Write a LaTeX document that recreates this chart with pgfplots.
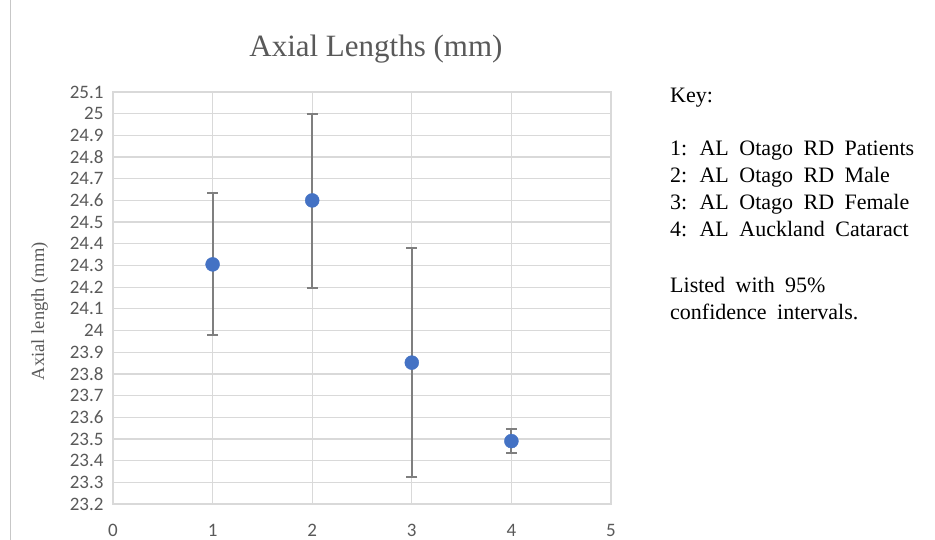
\documentclass[border=0pt]{standalone}
\usepackage{fontspec}
\setmainfont{Liberation Serif}
\newfontfamily\tickfont{Carlito}
\newfontfamily\keyfont[WordSpace=1.9]{Liberation Serif}
\usepackage{pgfplots}
\pgfplotsset{compat=1.18}
\definecolor{txtgray}{HTML}{595959}
\definecolor{gridgray}{HTML}{D9D9D9}
\definecolor{ptblue}{HTML}{4472C4}
\definecolor{errgray}{HTML}{7F7F7F}
\newcommand{\tfont}{\tickfont\fontsize{19}{21}\selectfont}
\begin{document}
\begin{tikzpicture}
\path[use as bounding box] (0,0) rectangle (935pt,540pt);
\draw[black!22, line width=1pt] (10pt,0) -- (10pt,540pt);
\begin{axis}[
  at={(113pt,36pt)}, anchor=south west,
  width=498pt, height=412pt, scale only axis,
  xmin=0, xmax=5, ymin=23.2, ymax=25.1,
  xtick={0,1,2,3,4,5},
  ytick={23.2,23.3,23.4,23.5,23.6,23.7,23.8,23.9,24,24.1,24.2,24.3,24.4,24.5,24.6,24.7,24.8,24.9,25,25.1},
  /pgf/number format/assume math mode=true,
  xticklabel={\tfont\pgfmathprintnumber[assume math mode=true]{\tick}},
  yticklabel={\tfont\pgfmathprintnumber[assume math mode=true,fixed,precision=1]{\tick}},
  tick label style={text=txtgray},
  yticklabel style={xshift=-6pt},
  xticklabel style={yshift=-17pt},
  major tick length=0pt,
  grid=major,
  major grid style={gridgray, line width=1.3pt},
  axis line style={gridgray, line width=1.3pt},
  title={Axial Lengths (mm)},
  title style={at={(axis description cs:0.528,1.09)}, anchor=center, font=\fontsize{31}{34}\selectfont, text=txtgray},
  ylabel={Axial length (mm)},
  ylabel style={at={(axis description cs:-0.147,0.468)}, anchor=center, font=\fontsize{18.5}{20}\selectfont, text=txtgray},
]
\addplot[draw=none, mark=none,
  error bars/.cd, y dir=both, y explicit,
  error bar style={errgray, line width=2pt},
  error mark options={rotate=90, mark size=5.5pt, errgray, line width=2pt}]
  coordinates {
  (1,24.305) += (0,0.327) -= (0,0.327)
  (2,24.600) += (0,0.400) -= (0,0.405)
  (3,23.852) += (0,0.529) -= (0,0.529)
  (4,23.490) += (0,0.055) -= (0,0.055)
  };
\addplot[only marks, mark=*, mark size=7pt, mark options={fill=ptblue, draw=ptblue}]
  coordinates {(1,24.305) (2,24.600) (3,23.852) (4,23.490)};
\end{axis}
\begin{scope}[every node/.style={anchor=base west, inner sep=0pt, font=\keyfont\fontsize{22}{26}\selectfont}]
\node at (670pt,437pt) {Key:};
\node at (670pt,384pt) {1: AL Otago RD Patients};
\node at (670pt,357pt) {2: AL Otago RD Male};
\node at (670pt,330pt) {3: AL Otago RD Female};
\node at (670pt,303pt) {4: AL Auckland Cataract};
\node at (670pt,247pt) {Listed with 95\%};
\node at (670pt,220pt) {confidence intervals.};
\end{scope}
\end{tikzpicture}
\end{document}
